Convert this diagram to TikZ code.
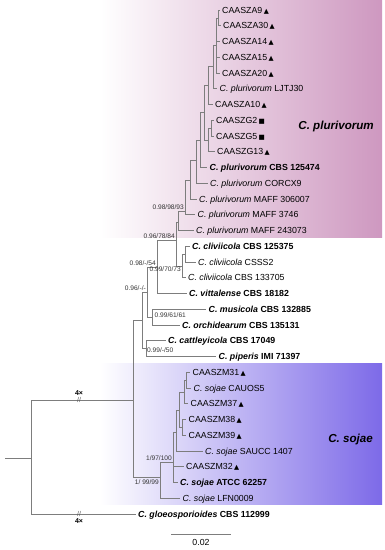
\documentclass[tikz,border=0pt]{standalone}
\usepackage{fontspec}
\setmainfont{Liberation Sans}
\newfontfamily\dejavu{DejaVu Sans}
\usepackage{tikz}
\usetikzlibrary{positioning}

\definecolor{plurpink}{RGB}{206,152,192}
\definecolor{sojblue}{RGB}{125,106,232}
\definecolor{branchgrey}{RGB}{125,125,125}

\newcommand{\mtri}{\,{\dejavu\fontsize{6.6}{7}\selectfont ▲}}
\newcommand{\msq}{\,{\dejavu\fontsize{6.6}{7}\selectfont ■}}
\newcommand{\cit}[1]{\textit{C. #1}}
\newcommand{\cbf}[1]{\textbf{\textit{C. #1}}}

\begin{document}
\begin{tikzpicture}[
    x=1pt, y=-1pt,
    leaf/.style={
        anchor=west, inner sep=2.5pt,
        text height=6.3pt, text depth=0pt,
        font=\fontsize{8.8}{10}\selectfont
    },
    supp/.style={inner sep=1pt, text=black!80, font=\fontsize{6.6}{7}\selectfont},
    clade/.style={anchor=east, inner sep=0pt, font=\fontsize{11.6}{13}\selectfont\bfseries\itshape},
    br/.style={draw=branchgrey, line width=0.9pt},
    brk/.style={inner sep=0pt, text=black!65, font=\fontsize{7}{7}\selectfont},
    mult/.style={inner sep=0.5pt, font=\fontsize{7}{7}\selectfont\bfseries},
]
\useasboundingbox (0,0) rectangle (385,550);
\shade[left color=white, right color=plurpink] (100,0) rectangle (382,237.5);
\shade[left color=white, right color=sojblue] (100,363.5) rectangle (382,504);

\node[clade] (plu) at (374,126) {C. plurivorum};
\node[clade] (soj) at (373,439) {C. sojae};

\node[leaf] (l1)  at (219.5,10)     {CAASZA9\mtri};
\node[leaf] (l2)  at (220.5,25.75)  {CAASZA30\mtri};
\node[leaf] (l3)  at (219.5,41.5)   {CAASZA14\mtri};
\node[leaf] (l4)  at (219.5,57.25)  {CAASZA15\mtri};
\node[leaf] (l5)  at (219.5,73)     {CAASZA20\mtri};
\node[leaf] (l6)  at (217,88.75)    {\cit{plurivorum} LJTJ30};
\node[leaf] (l7)  at (212.5,104.5)  {CAASZA10\mtri};
\node[leaf] (l8)  at (213.5,120.25) {CAASZG2\msq};
\node[leaf] (l9)  at (213.5,136)    {CAASZG5\msq};
\node[leaf] (l10) at (214.5,151.75) {CAASZG13\mtri};
\node[leaf] (l11) at (207,167.5)    {\cbf{plurivorum} \textbf{CBS 125474}};
\node[leaf] (l12) at (207.5,183.25) {\cit{plurivorum} CORCX9};
\node[leaf] (l13) at (196.5,199)    {\cit{plurivorum} MAFF 306007};
\node[leaf] (l14) at (195,214.75)   {\cit{plurivorum} MAFF 3746};
\node[leaf] (l15) at (193.5,230.5)  {\cit{plurivorum} MAFF 243073};
\node[leaf] (l16) at (189.5,246.25) {\cbf{cliviicola} \textbf{CBS 125375}};
\node[leaf] (l17) at (195.5,262)    {\cit{cliviicola} CSSS2};
\node[leaf] (l18) at (185.5,277.75) {\cit{cliviicola} CBS 133705};
\node[leaf] (l19) at (186.5,293.5)  {\cbf{vittalense} \textbf{CBS 18182}};
\node[leaf] (l20) at (206,309.25)   {\cbf{musicola} \textbf{CBS 132885}};
\node[leaf] (l21) at (179.5,325)    {\cbf{orchidearum} \textbf{CBS 135131}};
\node[leaf] (l22) at (165.5,340.75) {\cbf{cattleyicola} \textbf{CBS 17049}};
\node[leaf] (l23) at (216,356.5)    {\cbf{piperis} \textbf{IMI 71397}};
\node[leaf] (l24) at (190,372.25)   {CAASZM31\mtri};
\node[leaf] (l25) at (191,388)      {\cit{sojae} CAUOS5};
\node[leaf] (l26) at (188,403.75)   {CAASZM37\mtri};
\node[leaf] (l27) at (186,419.5)    {CAASZM38\mtri};
\node[leaf] (l28) at (186,435.25)   {CAASZM39\mtri};
\node[leaf] (l29) at (202.5,451)    {\cit{sojae} SAUCC 1407};
\node[leaf] (l30) at (183.5,466.75) {CAASZM32\mtri};
\node[leaf] (l31) at (177.5,482.5)  {\cbf{sojae} \textbf{ATCC 62257}};
\node[leaf] (l32) at (180,498.25)   {\cit{sojae} LFN0009};
\node[leaf] (l33) at (135.5,514)    {\cbf{gloeosporioides} \textbf{CBS 112999}};

\coordinate (a0) at (218.5,18);
\coordinate (a1) at (216.5,45);
\coordinate (a2) at (213,66);
\coordinate (a3) at (208.5,85);
\coordinate (g1) at (211.5,128);
\coordinate (g2) at (208.5,140);
\coordinate (a4) at (204,112);
\coordinate (a5) at (200.5,140);
\coordinate (a6) at (196,160);
\coordinate (a7) at (190.5,180);
\coordinate (p2) at (185,211);
\coordinate (p1) at (178.5,222);
\coordinate (c1) at (185,254);
\coordinate (c2) at (182,266);
\coordinate (s)  at (176,240);
\coordinate (d)  at (157,267);
\coordinate (mo) at (152,317);
\coordinate (e)  at (147,292);
\coordinate (cp) at (146,348.6);
\coordinate (b)  at (142,320);
\coordinate (m1) at (186.5,380);
\coordinate (m2) at (184,392);
\coordinate (m3) at (182.5,427);
\coordinate (m4) at (179.5,410);
\coordinate (m5) at (176.5,432);
\coordinate (s3) at (173,462);
\coordinate (s4) at (160,477);
\coordinate (a)  at (133,400);
\coordinate (r)  at (31,458);
\coordinate (rt) at (5,458);

\draw[br] (a0) |- (l1.west);
\draw[br] (a0) |- (l2.west);
\draw[br] (a1) |- (a0);
\draw[br] (a1) |- (l3.west);
\draw[br] (a1) |- (l4.west);
\draw[br] (a1) |- (l5.west);
\draw[br] (a2) |- (a1);
\draw[br] (a2) |- (l6.west);
\draw[br] (a3) |- (a2);
\draw[br] (a3) |- (l7.west);
\draw[br] (g1) |- (l8.west);
\draw[br] (g1) |- (l9.west);
\draw[br] (g2) |- (g1);
\draw[br] (g2) |- (l10.west);
\draw[br] (a4) |- (a3);
\draw[br] (a4) |- (g2);
\draw[br] (a5) |- (a4);
\draw[br] (a5) |- (l11.west);
\draw[br] (a6) |- (a5);
\draw[br] (a6) |- (l12.west);
\draw[br] (a7) |- (a6);
\draw[br] (a7) |- (l13.west);
\draw[br] (p2) |- (a7);
\draw[br] (p2) |- (l14.west);
\draw[br] (p1) |- (p2);
\draw[br] (p1) |- (l15.west);
\draw[br] (c1) |- (l16.west);
\draw[br] (c1) |- (l17.west);
\draw[br] (c2) |- (c1);
\draw[br] (c2) |- (l18.west);
\draw[br] (s)  |- (p1);
\draw[br] (s)  |- (c2);
\draw[br] (d)  |- (s);
\draw[br] (d)  |- (l19.west);
\draw[br] (mo) |- (l20.west);
\draw[br] (mo) |- (l21.west);
\draw[br] (e)  |- (d);
\draw[br] (e)  |- (mo);
\draw[br] (cp) |- (l22.west);
\draw[br] (cp) |- (l23.west);
\draw[br] (b)  |- (e);
\draw[br] (b)  |- (cp);
\draw[br] (m1) |- (l24.west);
\draw[br] (m1) |- (l25.west);
\draw[br] (m2) |- (m1);
\draw[br] (m2) |- (l26.west);
\draw[br] (m3) |- (l27.west);
\draw[br] (m3) |- (l28.west);
\draw[br] (m4) |- (m2);
\draw[br] (m4) |- (m3);
\draw[br] (m5) |- (m4);
\draw[br] (m5) |- (l29.west);
\draw[br] (s3) |- (m5);
\draw[br] (s3) |- (l30.west);
\draw[br] (s3) |- (l31.west);
\draw[br] (s4) |- (s3);
\draw[br] (s4) |- (l32.west);
\draw[br] (a)  |- (b);
\draw[br] (a)  |- (s4);
\draw[br] (r)  |- (a);
\draw[br] (r)  |- (l33.west);
\draw[br] (rt) -- (r);

\node[supp, anchor=south east] at (p2) {0.98/98/93};
\node[supp, anchor=south east] at (s)  {0.96/78/84};
\node[supp, anchor=north east] at (c2) {0.99/70/73};
\node[supp, anchor=south east] at (d)  {0.98/-/54};
\node[supp, anchor=south east] at (e)  {0.96/-/-};
\node[supp, anchor=west, xshift=1.5pt, yshift=2pt] at (mo) {0.99/61/61};
\node[supp, anchor=west, yshift=-1.5pt] at (cp) {0.99/-/50};
\node[supp, anchor=south east] at (s3) {1/97/100};
\node[supp, anchor=north east, yshift=-2pt] at (s4) {1/ 99/99};

\node[brk] (k1) at (79,400) {//};
\node[mult, above=1pt of k1] (x1) {4×};
\node[brk] (k2) at (79,514) {//};
\node[mult, below=1pt of k2] (x2) {4×};

\coordinate (sbl) at (171,534);
\coordinate (sbr) at (231,534);
\draw[br] (sbl) -- (sbr) node[midway, below=1.5pt, font=\fontsize{8.8}{10}\selectfont] (sbt) {0.02};
\end{tikzpicture}
\end{document}
